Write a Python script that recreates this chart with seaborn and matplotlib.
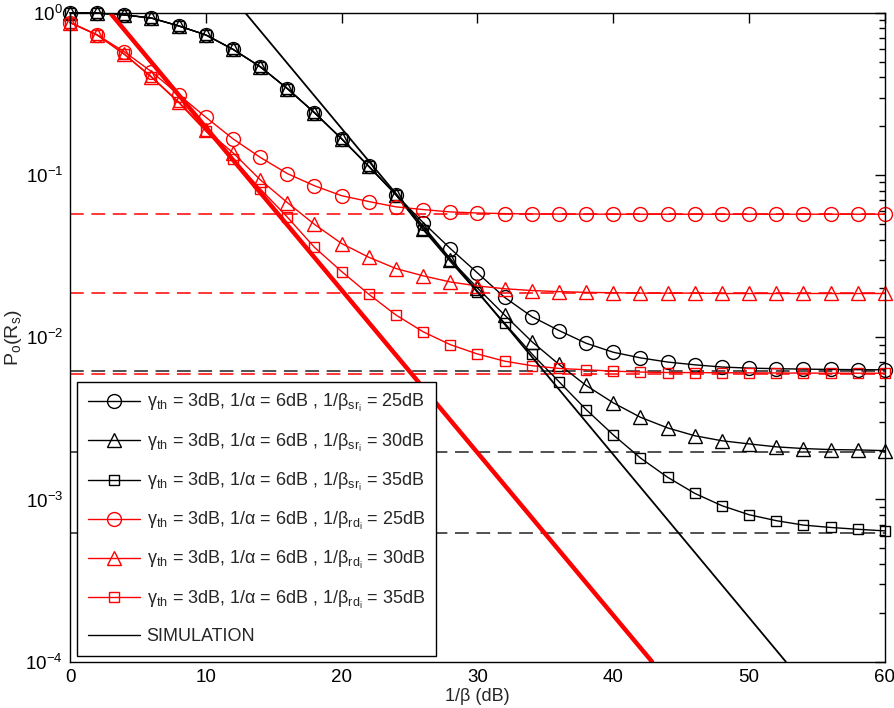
import numpy as np
import pandas as pd
import matplotlib
matplotlib.use("Agg")
import matplotlib.pyplot as plt
from matplotlib.lines import Line2D
from matplotlib.ticker import LogLocator, NullFormatter
import seaborn as sns

# ── Data ──────────────────────────────────────────────────────────────────────
snr_db = list(range(0, 61, 2))

sr25 = [1.0, 0.995, 0.97, 0.927, 0.83, 0.73, 0.595, 0.465, 0.341, 0.242, 0.167,
        0.113, 0.0755, 0.0509, 0.0352, 0.0249, 0.0176, 0.0134, 0.0110, 0.00918,
        0.00808, 0.00746, 0.00703, 0.00676, 0.00655, 0.00645, 0.0064, 0.00636,
        0.00633, 0.00631, 0.0063]
sr30 = [1.0, 0.995, 0.97, 0.927, 0.83, 0.73, 0.595, 0.465, 0.341, 0.242, 0.167,
        0.113, 0.0755, 0.0466, 0.0301, 0.0201, 0.0137, 0.0094, 0.0068, 0.00504,
        0.00394, 0.00321, 0.00276, 0.00247, 0.0023, 0.0022, 0.00211, 0.00206,
        0.00203, 0.00202, 0.0020]
sr35 = [1.0, 0.995, 0.97, 0.927, 0.83, 0.73, 0.595, 0.465, 0.341, 0.242, 0.167,
        0.113, 0.0755, 0.046, 0.0293, 0.0189, 0.0122, 0.0079, 0.00532, 0.00358,
        0.0025, 0.0018, 0.00137, 0.00109, 0.000915, 0.000805, 0.00074, 0.000695,
        0.000672, 0.000655, 0.00064]
rd25 = [0.87, 0.73, 0.575, 0.433, 0.313, 0.227, 0.167, 0.1285, 0.102, 0.0858,
        0.0745, 0.0686, 0.0636, 0.0612, 0.0592, 0.0583, 0.0578, 0.0575, 0.0574,
        0.0574, 0.0573, 0.0573, 0.0573, 0.0573, 0.0573, 0.0573, 0.0573, 0.0573,
        0.0573, 0.0573, 0.0573]
rd30 = [0.87, 0.73, 0.555, 0.403, 0.282, 0.19, 0.137, 0.0935, 0.0676, 0.0496,
        0.0378, 0.0311, 0.0265, 0.0239, 0.0219, 0.0207, 0.0199, 0.0194, 0.0191,
        0.0189, 0.0188, 0.0187, 0.0187, 0.0187, 0.0186, 0.0186, 0.0186, 0.0186,
        0.0186, 0.0186, 0.0186]
rd35 = [0.87, 0.73, 0.555, 0.40, 0.28, 0.186, 0.126, 0.0822, 0.055, 0.0358,
        0.0254, 0.0184, 0.0137, 0.0108, 0.009, 0.00788, 0.00712, 0.00668, 0.00642,
        0.0063, 0.00618, 0.0061, 0.00606, 0.00605, 0.00604, 0.00603, 0.00602,
        0.00601, 0.006, 0.006, 0.006]

floor_sr = [0.00623, 0.00197, 0.000623]   # black dashed asymptotes
floor_rd = [0.0572, 0.0186, 0.00594]      # red dashed asymptotes

slope_sr_x = [12.9, 52.7]
slope_sr_y = [1.0, 1e-4]
slope_rd_x = [2.95, 42.85]
slope_rd_y = [1.0, 1e-4]

labels = [
    r"$\gamma_{th}$ = 3dB, 1/$\alpha$ = 6dB , 1/$\beta_{sr_i}$ = 25dB",
    r"$\gamma_{th}$ = 3dB, 1/$\alpha$ = 6dB , 1/$\beta_{sr_i}$ = 30dB",
    r"$\gamma_{th}$ = 3dB, 1/$\alpha$ = 6dB , 1/$\beta_{sr_i}$ = 35dB",
    r"$\gamma_{th}$ = 3dB, 1/$\alpha$ = 6dB , 1/$\beta_{rd_i}$ = 25dB",
    r"$\gamma_{th}$ = 3dB, 1/$\alpha$ = 6dB , 1/$\beta_{rd_i}$ = 30dB",
    r"$\gamma_{th}$ = 3dB, 1/$\alpha$ = 6dB , 1/$\beta_{rd_i}$ = 35dB",
]

# ── Style ─────────────────────────────────────────────────────────────────────
sns.set_style("white")
plt.rcParams["font.family"] = ["Liberation Sans", "DejaVu Sans"]
plt.rcParams["mathtext.fontset"] = "custom"
plt.rcParams["mathtext.rm"] = "Liberation Sans"
plt.rcParams["mathtext.it"] = "Liberation Sans"
plt.rcParams["mathtext.bf"] = "Liberation Sans:bold"
plt.rcParams["font.size"] = 13

RED = "#ff0000"
BLACK = "#000000"

fig = plt.figure(figsize=(8.94, 7.08), dpi=100)
ax = fig.add_axes([0.0783, 0.0654, 0.9116, 0.9166])

# dashed error floors
for v in floor_sr:
    ax.plot([0, 60], [v, v], color="#222222", lw=1.1, ls=(0, (9, 5)))
for v in floor_rd:
    ax.plot([0, 60], [v, v], color=RED, lw=1.1, ls=(0, (9, 5)))

series = [sr25, sr30, sr35, rd25, rd30, rd35]
colors = [BLACK] * 3 + [RED] * 3
markers = ["o", "^", "s"] * 2
msizes = [10, 10.5, 7.5] * 2

for ys, c, m, ms, lab in zip(series, colors, markers, msizes, labels):
    df = pd.DataFrame({"snr": snr_db, "po": ys})
    sns.lineplot(data=df, x="snr", y="po", ax=ax, color=c, lw=1.0,
                 marker=m, markersize=ms, markerfacecolor="none",
                 markeredgecolor=c, markeredgewidth=1.0,
                 estimator=None, legend=False, label=lab, clip_on=False)

# diversity-order slopes
ax.plot(slope_sr_x, slope_sr_y, color=BLACK, lw=1.3)
ax.plot(slope_rd_x, slope_rd_y, color=RED, lw=3.2)

ax.set_yscale("log")
ax.set_xlim(0, 60)
ax.set_ylim(1e-4, 1)
ax.set_xticks([0, 10, 20, 30, 40, 50, 60])
ax.yaxis.set_minor_locator(LogLocator(base=10, subs=np.arange(2, 10)))
ax.yaxis.set_minor_formatter(NullFormatter())
ax.tick_params(which="both", direction="in", top=True, right=True,
               labelsize=13.5, width=1.0, colors=BLACK)
ax.tick_params(axis="x", which="major", pad=5)
ax.tick_params(axis="y", which="major", pad=5)
ax.tick_params(which="major", length=7)
ax.tick_params(which="minor", length=4)
for sp in ax.spines.values():
    sp.set_edgecolor(BLACK)
    sp.set_linewidth(1.0)

ax.set_xlabel("1/β (dB)", fontsize=13)
ax.set_ylabel(r"P$_o$(R$_s$)", fontsize=14)
ax.xaxis.set_label_coords(0.5, -0.041)
ax.yaxis.set_label_coords(-0.057, 0.5)

handles = [l for l in ax.get_lines() if l.get_label() in labels]
handles.append(Line2D([], [], color=BLACK, lw=1.0))
leg = ax.legend(handles, labels + ["SIMULATION"], loc="lower left",
                bbox_to_anchor=(7 / 815, 6 / 649), borderaxespad=0,
                fancybox=False, framealpha=1, edgecolor=BLACK,
                fontsize=13, handlelength=2.9, handletextpad=0.35,
                labelspacing=0.95, borderpad=0.6)
leg.get_frame().set_linewidth(1.0)

fig.savefig("out.png", dpi=100)
